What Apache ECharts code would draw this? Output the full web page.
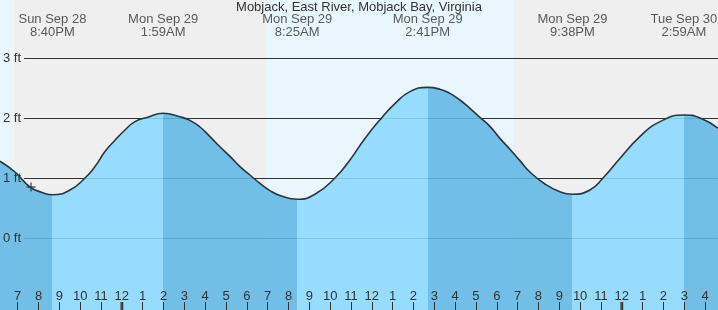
<!DOCTYPE html>
<html>
<head>
<meta charset="utf-8">
<title>Mobjack tide</title>
<script src="https://cdn.jsdelivr.net/npm/echarts@6/dist/echarts.min.js"></script>
<style>html,body{margin:0;padding:0;background:#efefef;}</style>
</head>
<body>
<div id="main" style="width:718px;height:310px;"></div>
<script>
// times are hours counted from Sun Sep 28 00:00, heights in feet
var curveHours = [18.15, 18.87, 19.59, 20.17, 20.667, 21.51, 22.23, 22.71, 23.19, 23.67, 24.15, 24.63, 25.21, 25.983,
                  26.79, 27.27, 27.75, 28.23, 28.71, 29.19, 29.67, 30.15, 30.63, 31.11, 31.59, 32.417,
                  33.27, 34.23, 34.95, 35.67, 36.49, 37.11, 37.83, 38.683,
                  39.27, 39.75, 40.23, 40.71, 41.19, 41.67, 42.15, 42.63, 43.11, 43.59, 44.31, 45.03, 45.633,
                  46.47, 47.10, 47.92, 48.87, 49.84, 50.983, 51.76, 52.62];
var curveFeet  = [1.28, 1.10, 0.85, 0.76, 0.72, 0.80, 1.0, 1.19, 1.44, 1.63, 1.80, 1.94, 2.01, 2.08,
                  2.02, 1.96, 1.85, 1.69, 1.52, 1.36, 1.19, 1.05, 0.91, 0.79, 0.71, 0.645,
                  0.73, 1.0, 1.30, 1.66, 2.01, 2.24, 2.44, 2.51,
                  2.48, 2.41, 2.30, 2.16, 2.01, 1.86, 1.66, 1.48, 1.29, 1.10, 0.90, 0.77, 0.73,
                  0.80, 1.0, 1.33, 1.69, 1.94, 2.05, 2.0, 1.83];

var extremeHours = [20.667, 25.983, 32.417, 38.683, 45.633, 50.983];
var extremeDays  = ['Sun Sep 28', 'Mon Sep 29', 'Mon Sep 29', 'Mon Sep 29', 'Mon Sep 29', 'Tue Sep 30'];
var extremeTimes = ['8:40PM', '1:59AM', '8:25AM', '2:41PM', '9:38PM', '2:59AM'];

var hourTicks = [19, 20, 21, 22, 23, 24, 25, 26, 27, 28, 29, 30, 31, 32, 33, 34, 35, 36, 37, 38, 39, 40, 41, 42, 43, 44, 45, 46, 47, 48, 49, 50, 51, 52];
var midnights = [24, 48];
var daylight = [[18.0, 18.82], [30.92, 42.78]];
var nowPoint = [19.64, 0.85];
var feetTicks = [0, 1, 2, 3];

var FONT = 'Liberation Sans, Arial, sans-serif';
var TXT = '#333';
var DARK = '#61b8e5';
var LIGHT = '#8ad9ff';

var curve = curveHours.map(function (h, i) { return [h, curveFeet[i]]; });

// falling tide dark, rising tide light
var pieces = [{ lt: extremeHours[0], color: DARK }];
for (var i = 0; i < extremeHours.length; i++) {
    var p = { gte: extremeHours[i], color: i % 2 === 0 ? LIGHT : DARK };
    if (i + 1 < extremeHours.length) p.lt = extremeHours[i + 1];
    pieces.push(p);
}

var myChart = echarts.init(document.getElementById('main'));
var option = {
    backgroundColor: '#efefef',
    animation: false,
    title: {
        text: 'Mobjack, East River, Mobjack Bay, Virginia',
        left: 'center', top: 1, padding: 0,
        textStyle: { fontFamily: FONT, fontSize: 13, fontWeight: 'normal', color: TXT }
    },
    grid: [
        { left: 0, right: 0, top: 0, bottom: 0 },
        { left: 22, right: 0, top: 58, bottom: 72 }
    ],
    xAxis: [
        {
            type: 'value', gridIndex: 0, min: 18.15, max: 52.62, z: 7,
            axisLine: { show: false, onZero: false },
            splitLine: { show: false },
            axisTick: { inside: true, length: 8, customValues: hourTicks, lineStyle: { color: TXT, width: 1 } },
            axisLabel: {
                inside: true, margin: 7, customValues: hourTicks,
                fontFamily: FONT, fontSize: 13, color: TXT,
                formatter: function (v) { var h = Math.round(v) % 12; return h === 0 ? '12' : String(h); }
            }
        },
        { type: 'value', gridIndex: 1, min: 0, max: 1, show: false }
    ],
    yAxis: [
        { type: 'value', gridIndex: 0, min: -1.2, max: 3.9667, show: false },
        {
            type: 'value', gridIndex: 1, position: 'left', min: 0, max: 3, interval: 1, z: 2,
            axisLine: { show: false }, axisTick: { show: false }, axisLabel: { show: false },
            splitLine: { show: true, lineStyle: { color: TXT, width: 1 } }
        },
        {
            type: 'value', gridIndex: 1, position: 'left', offset: 0, min: 0, max: 3, interval: 1, z: 7,
            axisLine: { show: false }, axisTick: { show: false }, splitLine: { show: false },
            axisLabel: {
                margin: 3, fontFamily: FONT, fontSize: 13, color: TXT,
                formatter: function (v) { return feetTicks.indexOf(v) >= 0 ? v + ' ft' : ''; }
            }
        }
    ],
    visualMap: {
        type: 'piecewise', show: false, dimension: 0, seriesIndex: 1, pieces: pieces
    },
    series: [
        {
            type: 'line', xAxisIndex: 0, yAxisIndex: 0, data: [], z: 0, silent: true,
            markArea: {
                silent: true, z: 0,
                itemStyle: { color: '#eaf6fe' },
                data: daylight.map(function (d) { return [{ xAxis: d[0] }, { xAxis: d[1] }]; })
            }
        },
        {
            type: 'line', xAxisIndex: 0, yAxisIndex: 0, data: curve, z: 3,
            smooth: 0.5, showSymbol: false, silent: true,
            lineStyle: { width: 0 },
            areaStyle: { opacity: 0.88, origin: 'start' }
        },
        {
            type: 'line', xAxisIndex: 0, yAxisIndex: 0, data: curve, z: 4,
            smooth: 0.5, showSymbol: false, silent: true,
            lineStyle: { color: '#333', width: 1.6 }
        },
        {
            type: 'scatter', xAxisIndex: 0, yAxisIndex: 0, z: 6, silent: true,
            symbol: 'path://M0,3.8H9V5.2H0Z M3.8,0H5.2V9H3.8Z', symbolSize: 9,
            itemStyle: { color: '#333' },
            data: [nowPoint]
        },
        {
            type: 'scatter', xAxisIndex: 0, yAxisIndex: 0, z: 8, silent: true,
            symbol: 'rect', symbolSize: [3, 8], symbolOffset: [0, -4],
            itemStyle: { color: '#333' },
            data: midnights.map(function (m) { return [m, -1.2]; })
        },
        {
            type: 'scatter', xAxisIndex: 0, yAxisIndex: 0, z: 6, silent: true,
            symbolSize: 1, itemStyle: { color: 'rgba(0,0,0,0)' },
            label: {
                show: true, position: 'inside', fontFamily: FONT, fontSize: 13, lineHeight: 13, color: TXT,
                formatter: function (p) { return extremeDays[p.dataIndex] + '\n' + extremeTimes[p.dataIndex]; }
            },
            data: extremeHours.map(function (h) { return [h, 3.533]; })
        }
    ]
};
myChart.setOption(option);
</script>
</body>
</html>
